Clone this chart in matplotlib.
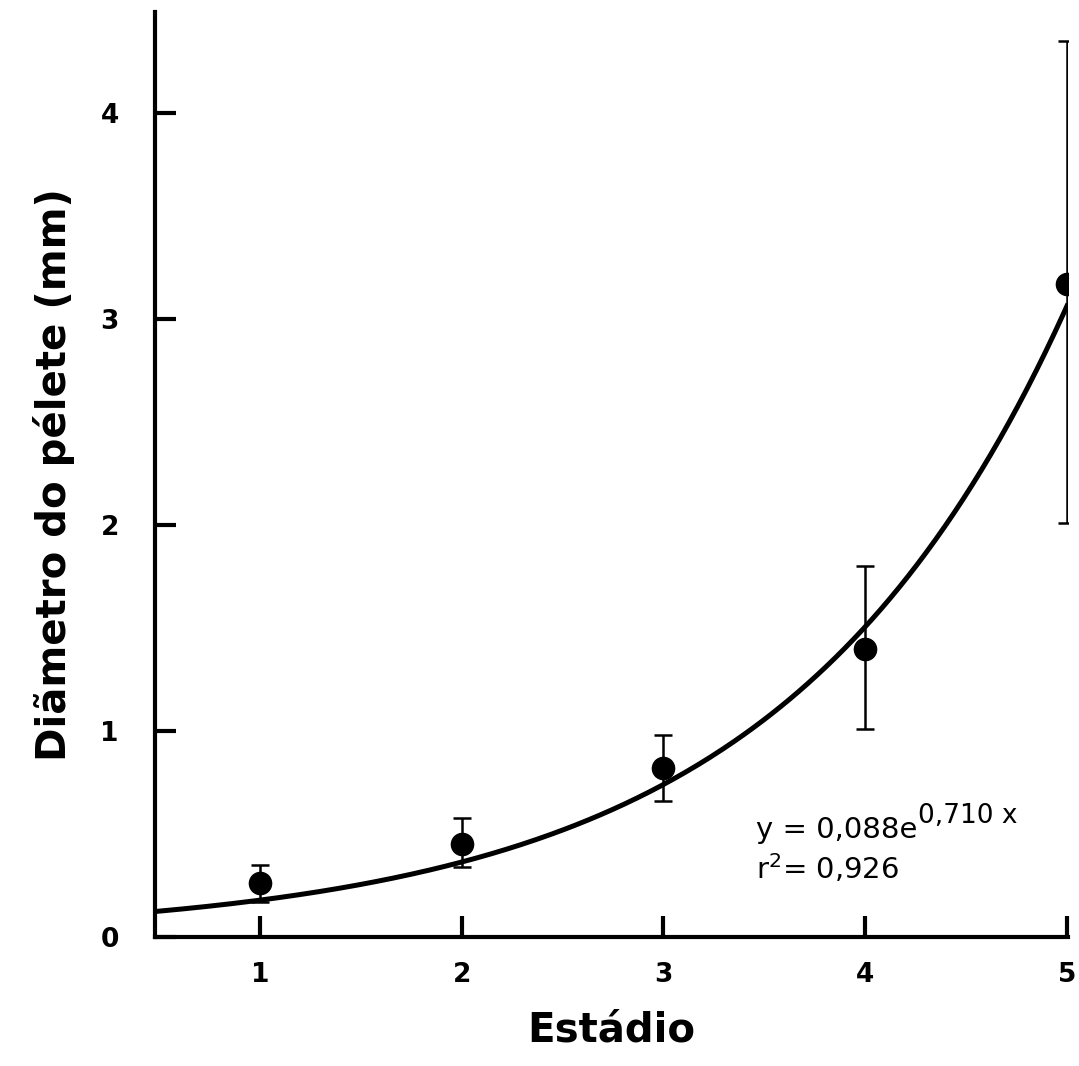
import numpy as np
import matplotlib
matplotlib.use("Agg")
import matplotlib.pyplot as plt

# data
estadio = [1, 2, 3, 4, 5]
diametro = [0.26, 0.45, 0.82, 1.40, 3.17]
err_low = [0.17, 0.34, 0.66, 1.01, 2.01]
err_high = [0.35, 0.58, 0.98, 1.80, 4.35]

# fitted model printed on the chart: y = a * exp(b x)
fit_a = 0.088
fit_b = 0.710
fit_r2 = 0.926

x_ticks = [1, 2, 3, 4, 5]
y_ticks = [0, 1, 2, 3, 4]

plt.rcParams['font.family'] = ['DejaVu Sans']
plt.rcParams['mathtext.fontset'] = 'custom'
plt.rcParams['mathtext.rm'] = 'DejaVu Sans'

fig = plt.figure(figsize=(10.79, 10.66), dpi=100)
ax = fig.add_axes([0.1437, 0.121, 0.8461, 0.8677])

yerr = [np.array(diametro) - np.array(err_low), np.array(err_high) - np.array(diametro)]
ax.errorbar(estadio, diametro, yerr=yerr, fmt='o', color='black', markersize=16,
            elinewidth=1.8, capsize=6.5, capthick=1.8, zorder=3)

xs = np.linspace(0.48, 5.0, 300)
ax.plot(xs, fit_a * np.exp(fit_b * xs), color='black', lw=3.6, zorder=2)

ax.set_xlim(0.48, 5.005)
ax.set_ylim(0, 4.49)
ax.set_xticks(x_ticks)
ax.set_yticks(y_ticks)
ax.set_xticklabels([str(v) for v in x_ticks], fontsize=19, fontweight='bold')
ax.set_yticklabels([str(v) for v in y_ticks], fontsize=19, fontweight='bold')
ax.tick_params(direction='in', length=15, width=3, pad=26)
ax.tick_params(axis='x', pad=18)

for side in ['top', 'right']:
    ax.spines[side].set_visible(False)
for side in ['left', 'bottom']:
    ax.spines[side].set_linewidth(3)

ax.set_xlabel('Estádio', fontsize=29, fontweight='bold', labelpad=16)
ax.set_ylabel('Diãmetro do pélete (mm)', fontsize=29, fontweight='bold', labelpad=18)

# fit equation, exponent set as its own raised text like the original lettering
eq = ax.text(3.46, 0.48, 'y = 0,088e', fontsize=21, ha='left', va='baseline')
ax.annotate('0,710 x', xy=(1.0, 0.55), xycoords=eq, fontsize=19, ha='left', va='bottom')
ax.text(3.46, 0.28, r'r$^{\mathregular{2}}$= 0,926', fontsize=21, ha='left', va='baseline')

fig.savefig('out.png', dpi=100)
